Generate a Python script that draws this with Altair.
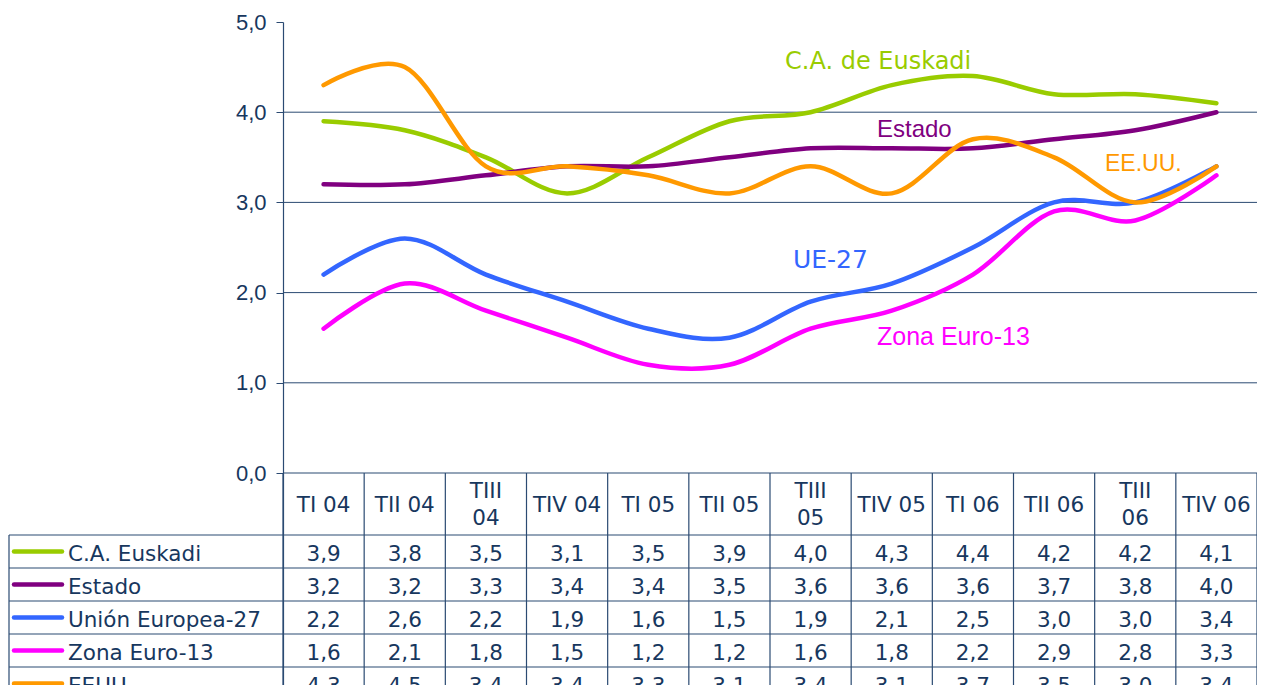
import altair as alt
import pandas as pd

categories = ["TI 04", "TII 04", "TIII 04", "TIV 04", "TI 05", "TII 05",
              "TIII 05", "TIV 05", "TI 06", "TII 06", "TIII 06", "TIV 06"]
series = ["C.A. Euskadi", "Estado", "Unión Europea-27", "Zona Euro-13", "EEUU"]
colors = ["#99CC00", "#800080", "#3366FF", "#FF00FF", "#FF9900"]

euskadi = [3.9, 3.8, 3.5, 3.1, 3.5, 3.9, 4.0, 4.3, 4.4, 4.2, 4.2, 4.1]
estado = [3.2, 3.2, 3.3, 3.4, 3.4, 3.5, 3.6, 3.6, 3.6, 3.7, 3.8, 4.0]
ue27 = [2.2, 2.6, 2.2, 1.9, 1.6, 1.5, 1.9, 2.1, 2.5, 3.0, 3.0, 3.4]
zona = [1.6, 2.1, 1.8, 1.5, 1.2, 1.2, 1.6, 1.8, 2.2, 2.9, 2.8, 3.3]
eeuu = [4.3, 4.5, 3.4, 3.4, 3.3, 3.1, 3.4, 3.1, 3.7, 3.5, 3.0, 3.4]
values = [euskadi, estado, ue27, zona, eeuu]

# layout
W, H = 974, 663
PXU = 90.2                      # pixels per unit on y
YMIN = 5 - H / PXU
HEADER = 62
ROWH = 33
NAVY = "#17375E"
LINEC = "#2B4A72"
TFONT = "DejaVu Sans"
AFONT = "Liberation Sans"
TSIZE = 21.5

def px(off):
    return -off / PXU

rows = []
for r, (s, vals) in enumerate(zip(series, values)):
    for i, (c, v) in enumerate(zip(categories, vals)):
        rows.append({"idx": i, "cat": c, "series": s, "value": v, "row": r,
                     "label": f"{v:.1f}".replace(".", ","),
                     "ty": px(HEADER + ROWH * r + ROWH / 2)})
df = pd.DataFrame(rows)

hdr = pd.DataFrame({"idx": list(range(len(categories))),
                    "txt": [c.replace("TIII ", "TIII\n") for c in categories],
                    "wrapped": [c.startswith("TIII ") for c in categories],
                    "ty": [px(HEADER / 2)] * len(categories)})

leg = pd.DataFrame({"series": series,
                    "ty": [px(HEADER + ROWH * r + ROWH / 2) for r in range(len(series))]})

xs = alt.Scale(domain=[-0.5, len(categories) - 0.5], nice=False, zero=False)
ys = alt.Scale(domain=[YMIN, 5], nice=False, zero=False)
cs = alt.Scale(domain=series, range=colors)

yaxis = alt.Axis(values=[0, 1, 2, 3, 4, 5], grid=False, title=None,
                 labelExpr="replace(format(datum.value, '.1f'), '.', ',')",
                 labelFont=AFONT, labelFontSize=22, labelColor=NAVY,
                 tickSize=7, tickColor=LINEC, domainColor=LINEC, domainWidth=1.2,
                 labelPadding=10)

# gridlines
grid = alt.Chart(pd.DataFrame({"v": [1, 2, 3, 4]})).mark_rule(
    color=LINEC, strokeWidth=1).encode(
    y=alt.Y("v:Q", scale=ys, axis=yaxis),
    x=alt.value(0), x2=alt.value(W))

# table vertical lines
vl = alt.Chart(pd.DataFrame({"b": [i - 0.5 for i in range(len(categories) + 1)],
                             "y0": [0] * (len(categories) + 1),
                             "y1": [YMIN] * (len(categories) + 1)})).mark_rule(
    color=LINEC, strokeWidth=1.2).encode(
    x=alt.X("b:Q", scale=xs, axis=None),
    y=alt.Y("y0:Q", scale=ys), y2="y1:Q")

# table horizontal lines
hb = [0] + [px(HEADER + ROWH * k) for k in range(len(series) + 1)]
hl_top = alt.Chart(pd.DataFrame({"h": [0]})).mark_rule(
    color=LINEC, strokeWidth=1.2).encode(
    y=alt.Y("h:Q", scale=ys), x=alt.value(0), x2=alt.value(W))
hl = alt.Chart(pd.DataFrame({"h": hb[1:]})).mark_rule(
    color=LINEC, strokeWidth=1.2).encode(
    y=alt.Y("h:Q", scale=ys), x=alt.value(-274), x2=alt.value(W))
left_border = alt.Chart(pd.DataFrame({"y0": [hb[1]], "y1": [YMIN]})).mark_rule(
    color=LINEC, strokeWidth=1.2).encode(
    x=alt.value(-274), y=alt.Y("y0:Q", scale=ys), y2="y1:Q")

lines = alt.Chart(df).mark_line(strokeWidth=4.5, interpolate="cardinal",
                                strokeCap="round").encode(
    x=alt.X("idx:Q", scale=xs, axis=None),
    y=alt.Y("value:Q", scale=ys),
    color=alt.Color("series:N", scale=cs, legend=None),
    detail="series:N")

cells = alt.Chart(df).mark_text(font=TFONT, fontSize=TSIZE, color=NAVY,
                                baseline="middle", dy=3).encode(
    x=alt.X("idx:Q", scale=xs), y=alt.Y("ty:Q", scale=ys), text="label:N")

header1 = alt.Chart(hdr).transform_filter("!datum.wrapped").mark_text(
    font=TFONT, fontSize=TSIZE, color=NAVY, baseline="middle", dy=2).encode(
    x=alt.X("idx:Q", scale=xs), y=alt.Y("ty:Q", scale=ys), text="txt:N")

header2 = alt.Chart(hdr).transform_filter("datum.wrapped").mark_text(
    font=TFONT, fontSize=TSIZE, color=NAVY, baseline="middle", lineBreak="\n",
    lineHeight=27, dy=-12).encode(
    x=alt.X("idx:Q", scale=xs), y=alt.Y("ty:Q", scale=ys), text="txt:N")

swatch = alt.Chart(leg).mark_rule(strokeWidth=4.5, strokeCap="round").encode(
    x=alt.value(-269), x2=alt.value(-221), y=alt.Y("ty:Q", scale=ys),
    color=alt.Color("series:N", scale=cs, legend=None))

legtxt = alt.Chart(leg).mark_text(font=TFONT, fontSize=TSIZE, color=NAVY,
                                  align="left", baseline="middle", dy=3).encode(
    x=alt.value(-215), y=alt.Y("ty:Q", scale=ys), text="series:N")

def note(txt, x, y, color, font, size):
    return alt.Chart(pd.DataFrame({"t": [txt]})).mark_text(
        font=font, fontSize=size, color=color, align="left",
        baseline="alphabetic").encode(
        x=alt.value(x), y=alt.value(y), text="t:N")

notes = [
    note("C.A.  de  Euskadi", 502, 47, colors[0], TFONT, 24),
    note("Estado", 594, 115, colors[1], AFONT, 24),
    note("EE.UU.", 822, 149, colors[4], AFONT, 23),
    note("UE-27", 510, 246, colors[2], TFONT, 25),
    note("Zona Euro-13", 594, 323, colors[3], AFONT, 25),
]

chart = alt.layer(grid, vl, hl_top, hl, left_border, lines, cells, header1,
                  header2, swatch, legtxt, *notes).properties(
    width=W, height=H,
    autosize=alt.AutoSizeParams(type="none"),
    padding={"left": 275, "top": 14, "right": 0, "bottom": 0},
).configure_view(stroke=None)

chart.save("out.html", embed_options={"renderer": "svg", "actions": False})
